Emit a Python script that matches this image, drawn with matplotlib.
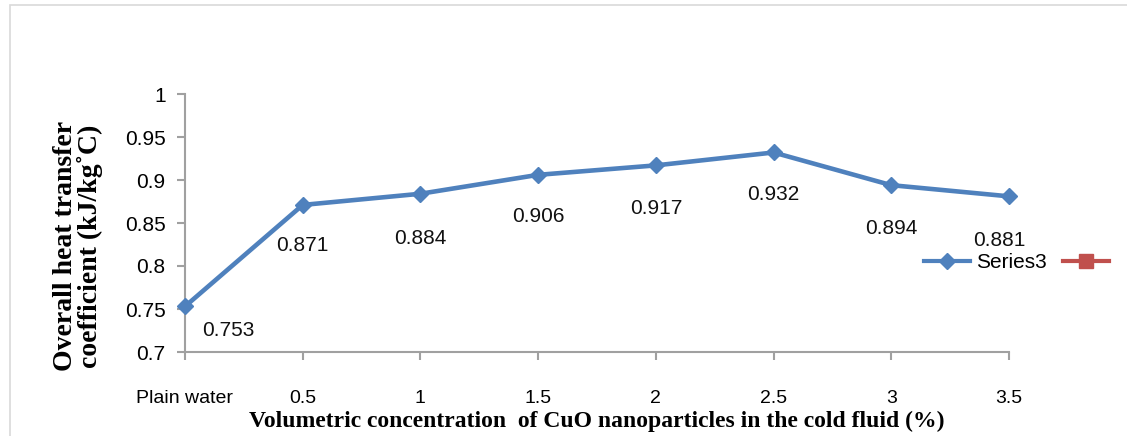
import matplotlib
matplotlib.use("Agg")
import matplotlib.pyplot as plt
from matplotlib.lines import Line2D
from matplotlib.patches import Rectangle
import numpy as np

CATEGORIES = ["Plain water", "0.5", "1", "1.5", "2", "2.5", "3", "3.5"]
VALUES = [0.753, 0.871, 0.884, 0.906, 0.917, 0.932, 0.894, 0.881]
# label offsets in points (dx, dy) relative to each point
LABEL_OFFSETS = [(31, -17), (0, -29), (0, -32), (0, -30), (0, -31), (0, -30), (0, -31), (-7, -32)]
Y_TICKS = [0.7, 0.75, 0.8, 0.85, 0.9, 0.95, 1.0]
Y_TICK_LABELS = ["0.7", "0.75", "0.8", "0.85", "0.9", "0.95", "1"]

BLUE = "#4F81BD"
RED = "#C0504D"
TICK_FONT = "Liberation Sans"
LABEL_FONT = "Liberation Serif"

fig = plt.figure(figsize=(11.27, 4.36), dpi=100)
fig.patches.append(Rectangle((10 / 1127, -0.1), 1.2, 1.1 - 5 / 436,
                             transform=fig.transFigure, fill=False,
                             edgecolor="#d9d9d9", linewidth=1.2))

ax = fig.add_axes([185 / 1127, 1 - 352 / 436, (1009 - 185) / 1127, (352 - 94) / 436])
x = np.arange(len(CATEGORIES))
ax.plot(x, VALUES, color=BLUE, linewidth=3.3, marker="D", markersize=8,
        markerfacecolor=BLUE, markeredgecolor=BLUE, clip_on=False, zorder=3)

for xi, v, (dx, dy) in zip(x, VALUES, LABEL_OFFSETS):
    ax.annotate(f"{v:.3f}", (xi, v), xytext=(dx, dy), textcoords="offset points",
                ha="center", va="center", fontsize=15, family=TICK_FONT, color="#111111")

ax.set_xlim(0, len(CATEGORIES) - 1)
ax.set_ylim(0.7, 1.0)
ax.set_yticks(Y_TICKS)
ax.set_yticklabels(Y_TICK_LABELS, family=TICK_FONT, fontsize=15)
ax.set_xticks(x)
ax.set_xticklabels(CATEGORIES, family=TICK_FONT, fontsize=14)
ax.tick_params(axis="y", length=6, width=1.5, color="#a0a0a0", pad=8)
ax.tick_params(axis="x", length=6, width=1.5, color="#a0a0a0", pad=21)

for side in ["top", "right"]:
    ax.spines[side].set_visible(False)
for side in ["left", "bottom"]:
    ax.spines[side].set_color("#a0a0a0")
    ax.spines[side].set_linewidth(1.5)

ax.set_ylabel("Overall heat transfer\ncoefficient (kJ/kg\u02daC)", family=LABEL_FONT,
              fontweight="bold", fontsize=20, linespacing=0.95)
ax.yaxis.set_label_coords(-0.099, 0.41)
ax.set_xlabel("Volumetric concentration  of CuO nanoparticles in the cold fluid (%)",
              family=LABEL_FONT, fontweight="bold", fontsize=17, labelpad=3)

handles = [
    Line2D([], [], color=BLUE, linewidth=3, marker="D", markersize=8),
    Line2D([], [], color=RED, linewidth=3, marker="s", markersize=10),
]
fig.legend(handles, ["Series3", ""], loc="center left", bbox_to_anchor=(905 / 1127, 1 - 263 / 436),
           ncol=2, frameon=False, prop={"family": TICK_FONT, "size": 15},
           handlelength=2.2, handletextpad=0.3, columnspacing=0.8)

fig.savefig("out.png", dpi=100)
